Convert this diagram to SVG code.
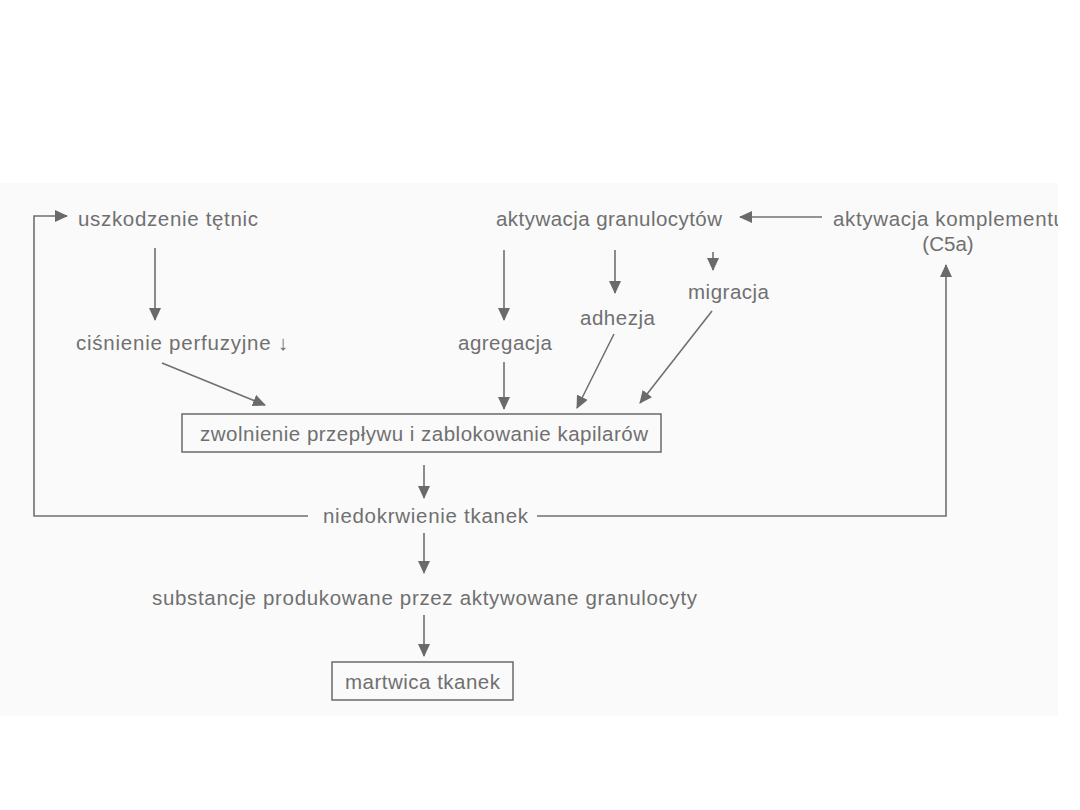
<svg xmlns="http://www.w3.org/2000/svg" width="1080" height="810" viewBox="0 0 1080 810">
<defs>
<marker id="ah" markerWidth="13" markerHeight="12" refX="12" refY="6" orient="auto" markerUnits="userSpaceOnUse">
<path d="M0,0 L13,6 L0,12 Z" fill="#6a6a6a"/>
</marker>
<style>
text{font-family:"Liberation Sans",Arial,sans-serif;font-size:20.5px;fill:#707070}
.ln{stroke:#707070;stroke-width:1.6;fill:none}
.ar{stroke:#707070;stroke-width:1.6;fill:none;marker-end:url(#ah)}
.box{fill:none;stroke:#6a6a6a;stroke-width:1.5}
</style>
</defs>
<rect x="0" y="0" width="1080" height="810" fill="#ffffff"/>
<rect x="0" y="183" width="1058" height="533" fill="#fafafa"/>

<g id="connectors">
<path class="ar" d="M155,248 L155,320"/>
<path class="ar" d="M162,363 L265,405"/>
<path class="ar" d="M504,250 L504,320"/>
<path class="ar" d="M615,250 L615,293"/>
<path class="ar" d="M713,252 L713,270"/>
<path class="ar" d="M504,362 L504,409"/>
<path class="ar" d="M614,334 L577,408"/>
<path class="ar" d="M712,311 L640,403"/>
<path class="ar" d="M822,217 L740,217"/>
<path class="ar" d="M424,465 L424,498"/>
<path class="ar" d="M308,516 L34,516 L34,216 L67,216"/>
<path class="ar" d="M537,516 L946,516 L946,265"/>
<path class="ar" d="M424,533 L424,573"/>
<path class="ar" d="M424,615 L424,656"/>
</g>

<g id="uszkodzenie"><text x="78" y="226" textLength="180" lengthAdjust="spacing">uszkodzenie tętnic</text></g>
<g id="cisnienie"><text x="76" y="350" textLength="212" lengthAdjust="spacing">ciśnienie perfuzyjne ↓</text></g>
<g id="granulocyty"><text x="496" y="226" textLength="226" lengthAdjust="spacing">aktywacja granulocytów</text></g>
<g id="komplement"><text x="833" y="226" textLength="232" lengthAdjust="spacing">aktywacja komplementu</text><text x="948" y="251" text-anchor="middle">(C5a)</text></g>
<rect x="1058" y="200" width="22" height="40" fill="#ffffff"/>
<g id="agregacja"><text x="458" y="350" textLength="94" lengthAdjust="spacing">agregacja</text></g>
<g id="adhezja"><text x="580" y="325" textLength="75" lengthAdjust="spacing">adhezja</text></g>
<g id="migracja"><text x="688" y="299" textLength="81" lengthAdjust="spacing">migracja</text></g>
<g id="zwolnienie"><rect class="box" x="182" y="414" width="479" height="38"/><text x="200" y="441" textLength="448" lengthAdjust="spacing">zwolnienie przepływu i zablokowanie kapilarów</text></g>
<g id="niedokrwienie"><text x="323" y="523" textLength="205" lengthAdjust="spacing">niedokrwienie tkanek</text></g>
<g id="substancje"><text x="152" y="605" textLength="545" lengthAdjust="spacing">substancje produkowane przez aktywowane granulocyty</text></g>
<g id="martwica"><rect class="box" x="332" y="662" width="181" height="38"/><text x="345" y="689" textLength="155" lengthAdjust="spacing">martwica tkanek</text></g>
</svg>
